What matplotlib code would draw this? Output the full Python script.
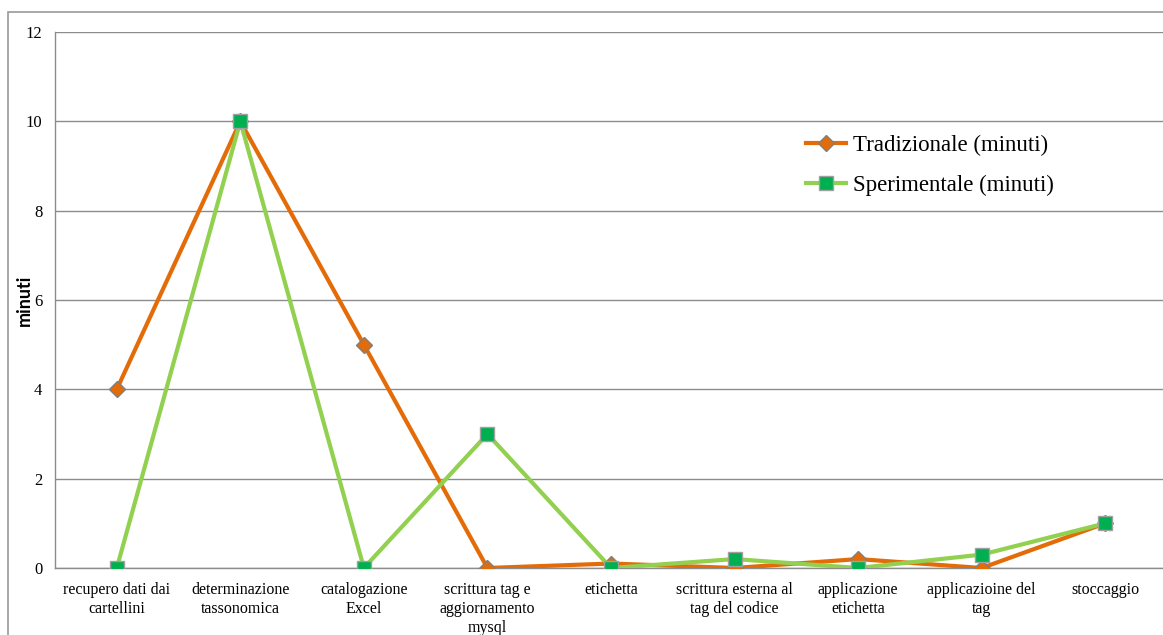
import matplotlib
matplotlib.use("Agg")
import matplotlib.pyplot as plt
from matplotlib.patches import Rectangle

categories = [
    "recupero dati dai\ncartellini",
    "determinazione\ntassonomica",
    "catalogazione\nExcel",
    "scrittura tag e\naggiornamento\nmysql",
    "etichetta",
    "scrittura esterna al\ntag del codice",
    "applicazione\netichetta",
    "applicazioine del\ntag",
    "stoccaggio",
]
tradizionale = [4, 10, 5, 0, 0.1, 0, 0.2, 0, 1]
sperimentale = [0, 10, 0, 3, 0, 0.2, 0, 0.3, 1]
y_ticks = [0, 2, 4, 6, 8, 10, 12]

W, H = 1163, 635
fig = plt.figure(figsize=(W / 100, H / 100), dpi=100)

# outer chart frame
fig.patches.append(Rectangle((8 / W, -0.1), 1.2, 1 - 12 / H + 0.1,
                             transform=fig.transFigure, fill=False,
                             edgecolor="#9a9a9a", linewidth=1.2))

ax = fig.add_axes([55 / W, 67 / H, 1112 / W, 536 / H])
x = list(range(len(categories)))

ax.plot(x, tradizionale, color="#E36C09", linewidth=3, marker="D",
        markersize=8, markerfacecolor="#E36C09", markeredgecolor="#7f7f7f",
        markeredgewidth=1, label="Tradizionale (minuti)", zorder=3)
ax.plot(x, sperimentale, color="#92D050", linewidth=3, marker="s",
        markersize=9.5, markerfacecolor="#00B050", markeredgecolor="#a0a0a0",
        markeredgewidth=1, label="Sperimentale (minuti)", zorder=4)

ax.set_xlim(-0.5, len(categories) - 0.5)
ax.set_ylim(0, 12)
ax.set_yticks(y_ticks)
ax.set_xticks(x)
ax.set_xticklabels(categories, family="Liberation Serif", fontsize=11.5,
                   linespacing=1.26)
ax.set_yticklabels([str(v) for v in y_ticks], family="Liberation Serif",
                   fontsize=12)
ax.tick_params(axis="both", length=0, colors="#000000")
ax.tick_params(axis="y", pad=9)
ax.tick_params(axis="x", pad=10)

ax.grid(axis="y", color="#8c8c8c", linewidth=1)
ax.set_axisbelow(True)
for s in ["top", "right"]:
    ax.spines[s].set_visible(False)
for s in ["left", "bottom"]:
    ax.spines[s].set_color("#8c8c8c")
    ax.spines[s].set_linewidth(1)

ax.set_ylabel("minuti", family="Lato", fontweight="bold", fontsize=13)
ax.yaxis.set_label_coords((33 - 55) / 1112, 0.5)

leg = ax.legend(loc="upper left", bbox_to_anchor=(806 / W, 1 - 135 / H),
                bbox_transform=fig.transFigure, frameon=False,
                prop={"family": "Liberation Serif", "size": 16.5},
                handlelength=1.75, handletextpad=0.28, labelspacing=0.8,
                borderaxespad=0, borderpad=0)

fig.savefig("out.png", dpi=100)
